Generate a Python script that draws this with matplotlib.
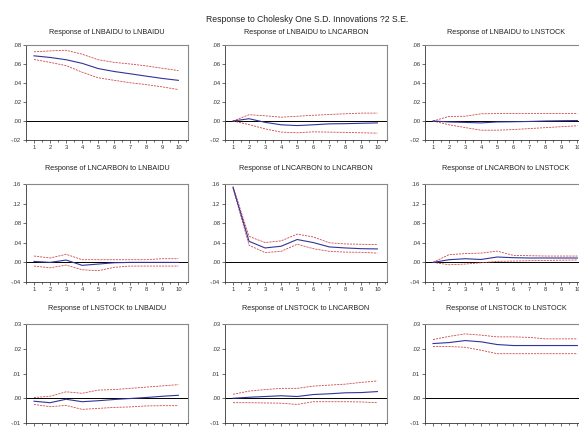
import matplotlib
matplotlib.use("Agg")
import matplotlib.pyplot as plt
import numpy as np
from matplotlib.ticker import FuncFormatter, MultipleLocator

plt.rcParams["font.family"] = ["Liberation Sans", "DejaVu Sans"]

W, H = 579, 428

periods = np.arange(1, 11)
names = ["LNBAIDU", "LNCARBON", "LNSTOCK"]

# response, upper band, lower band for each (response var, shock var)
resp_baidu_baidu = [.0686, .0669, .0645, .0607, .0552, .0521, .0497, .0472, .0448, .0428]
up_baidu_baidu = [.0728, .0738, .0745, .0703, .0645, .0617, .0600, .0580, .0555, .0531]
lo_baidu_baidu = [.0648, .0617, .0583, .0514, .0455, .0428, .0403, .0383, .0359, .0331]

resp_baidu_carbon = [0, .0024, -.0014, -.0040, -.0048, -.0040, -.0030, -.0028, -.0024, -.0020]
up_baidu_carbon = [0, .0066, .0055, .0040, .0050, .0060, .0069, .0076, .0083, .0083]
lo_baidu_carbon = [0, -.0038, -.0083, -.0117, -.0124, -.0114, -.0117, -.0120, -.0124, -.0128]

resp_baidu_stock = [0, -.0010, -.0015, -.0020, -.0010, -.0008, -.0005, 0, .0003, .0005]
up_baidu_stock = [0, .0048, .0050, .0076, .0078, .0080, .0080, .0080, .0080, .0080]
lo_baidu_stock = [0, -.0040, -.0069, -.0097, -.0097, -.0090, -.0080, -.0070, -.0060, -.0050]

resp_carbon_baidu = [.0020, 0, .0048, -.0060, -.0034, -.0007, 0, 0, 0, 0]
up_carbon_baidu = [.0130, .0090, .0165, .0055, .0055, .0055, .0055, .0055, .0075, .0075]
lo_carbon_baidu = [-.0075, -.0110, -.0055, -.0150, -.0170, -.0100, -.0075, -.0075, -.0075, -.0075]

resp_carbon_carbon = [.1530, .0430, .0295, .0330, .0467, .0405, .0316, .0295, .0280, .0275]
up_carbon_carbon = [.1550, .0530, .0405, .0440, .0576, .0520, .0400, .0377, .0370, .0363]
lo_carbon_carbon = [.1516, .0350, .0200, .0226, .0370, .0280, .0226, .0210, .0206, .0190]

resp_carbon_stock = [0, .0055, .0075, .0060, .0110, .0096, .0090, .0090, .0090, .0090]
up_carbon_stock = [0, .0158, .0180, .0190, .0230, .0144, .0137, .0130, .0130, .0130]
lo_carbon_stock = [0, -.0048, -.0034, -.0007, .0020, .0027, .0034, .0040, .0045, .0050]

resp_stock_baidu = [-.0012, -.0018, -.0004, -.0014, -.0010, -.0005, -.0001, .0003, .0008, .0012]
up_stock_baidu = [.0003, .0008, .0026, .0020, .0033, .0035, .0040, .0045, .0050, .0055]
lo_stock_baidu = [-.0025, -.0034, -.0029, -.0045, -.0041, -.0037, -.0035, -.0031, -.0030, -.0030]

resp_stock_carbon = [0, .0004, .0007, .0010, .0007, .0015, .0018, .0022, .0023, .0027]
up_stock_carbon = [.0016, .0029, .0035, .0040, .0040, .0049, .0053, .0057, .0064, .0070]
lo_stock_carbon = [-.0018, -.0018, -.0019, -.0020, -.0025, -.0014, -.0014, -.0014, -.0015, -.0018]

resp_stock_stock = [.0221, .0225, .0233, .0228, .0217, .0213, .0213, .0213, .0213, .0213]
up_stock_stock = [.0237, .0250, .0260, .0255, .0248, .0248, .0246, .0240, .0240, .0240]
lo_stock_stock = [.0209, .0209, .0206, .0194, .0180, .0180, .0180, .0180, .0180, .0180]

panels = [
    [(resp_baidu_baidu, up_baidu_baidu, lo_baidu_baidu),
     (resp_baidu_carbon, up_baidu_carbon, lo_baidu_carbon),
     (resp_baidu_stock, up_baidu_stock, lo_baidu_stock)],
    [(resp_carbon_baidu, up_carbon_baidu, lo_carbon_baidu),
     (resp_carbon_carbon, up_carbon_carbon, lo_carbon_carbon),
     (resp_carbon_stock, up_carbon_stock, lo_carbon_stock)],
    [(resp_stock_baidu, up_stock_baidu, lo_stock_baidu),
     (resp_stock_carbon, up_stock_carbon, lo_stock_carbon),
     (resp_stock_stock, up_stock_stock, lo_stock_stock)],
]

row_ylim = [(-0.02, 0.08), (-0.04, 0.16), (-0.01, 0.03)]
row_step = [0.02, 0.04, 0.01]

col_left = [26, 225, 425]
col_width = 162
row_top = [45, 184, 324]
row_height = [95, 98, 99]
row_title_y = [33, 168, 309]


def eviews_fmt(v, pos):
    s = f"{v:.2f}"
    return s.replace("0.", ".", 1)


fig = plt.figure(figsize=(W / 100, H / 100), dpi=100)
fig.text(307 / W, 1 - 20 / H, "Response to Cholesky One S.D. Innovations ?2 S.E.",
         ha="center", va="center", fontsize=6.2, color="#222222")

for r in range(3):
    for c in range(3):
        left = col_left[c] / W
        bottom = 1 - (row_top[r] + row_height[r]) / H
        ax = fig.add_axes([left, bottom, col_width / W, row_height[r] / H])
        resp, up, lo = panels[r][c]
        ax.axhline(0, color="black", linewidth=0.7, zorder=1)
        ax.plot(periods, up, color="#d04848", linewidth=0.6, dashes=(2.5, 1.2), zorder=2)
        ax.plot(periods, lo, color="#d04848", linewidth=0.6, dashes=(2.5, 1.2), zorder=2)
        ax.plot(periods, resp, color="#33339a", linewidth=0.8, zorder=3)

        ax.set_xlim(0.5, 10.6)
        ax.set_ylim(*row_ylim[r])
        ax.set_xticks(periods)
        ax.xaxis.set_minor_locator(MultipleLocator(0.5))
        ax.yaxis.set_major_locator(MultipleLocator(row_step[r]))
        ax.yaxis.set_major_formatter(FuncFormatter(eviews_fmt))
        ax.tick_params(axis="both", which="major", labelsize=4.2, length=2, width=0.5,
                       direction="out", pad=1.5, colors="#333333")
        ax.tick_params(axis="x", which="minor", length=1.2, width=0.4, direction="out")
        for side in ["top", "right"]:
            ax.spines[side].set_color("#888888")
            ax.spines[side].set_linewidth(0.8)
        for side in ["left", "bottom"]:
            ax.spines[side].set_color("#333333")
            ax.spines[side].set_linewidth(0.6)
        fig.text((col_left[c] + col_width / 2) / W, 1 - row_title_y[r] / H,
                 f"Response of {names[r]} to {names[c]}", ha="center", va="center",
                 fontsize=5.2, color="#222222")

fig.savefig("out.png", dpi=100)
